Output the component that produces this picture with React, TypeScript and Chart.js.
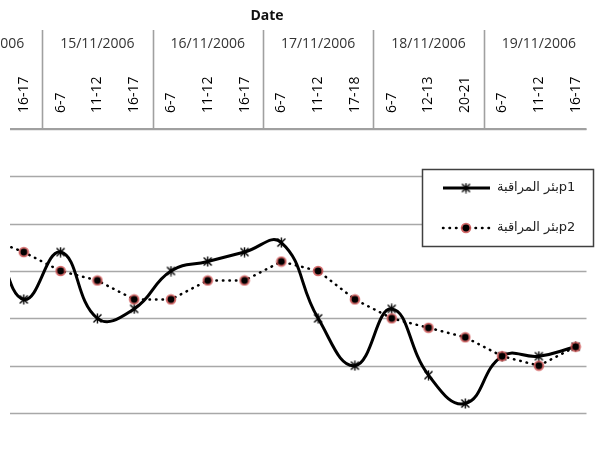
import React, { useEffect, useRef } from "react";
import { Chart, registerables } from "chart.js";

Chart.register(...registerables);

const dates = ["14/11/2006", "15/11/2006", "16/11/2006", "17/11/2006", "18/11/2006", "19/11/2006"];
const times = ["6-7", "11-12", "16-17", "6-7", "11-12", "16-17", "6-7", "11-12", "16-17", "6-7", "11-12", "17-18", "6-7", "12-13", "20-21", "6-7", "11-12", "16-17"];
const p1 = [3.0, 2.25, 3.6, 2.6, 4.0, 3.8, 3.0, 2.8, 2.6, 2.4, 4.0, 5.0, 3.8, 5.2, 5.8, 4.8, 4.8, 4.6];
const p2 = [2.4, 2.3, 2.6, 3.0, 3.2, 3.6, 3.6, 3.2, 3.2, 2.8, 3.0, 3.6, 4.0, 4.2, 4.4, 4.8, 5.0, 4.6];
const seriesNames = ["بئر المراقبةp1", "بئر المراقبةp2"];
const axisTitle = "Date";
const yTicks = [0, 1, 2, 3, 4, 5, 6];
const perDate = 3;

function makeStar(): HTMLCanvasElement {
  const c = document.createElement("canvas");
  c.width = 11;
  c.height = 11;
  const g = c.getContext("2d")!;
  g.strokeStyle = "#000";
  g.lineWidth = 1.4;
  g.beginPath();
  g.moveTo(1.5, 1.5); g.lineTo(9.5, 9.5);
  g.moveTo(9.5, 1.5); g.lineTo(1.5, 9.5);
  g.moveTo(5.5, 0.5); g.lineTo(5.5, 10.5);
  g.stroke();
  return c;
}

function makeDot(): HTMLCanvasElement {
  const c = document.createElement("canvas");
  c.width = 12;
  c.height = 12;
  const g = c.getContext("2d")!;
  g.fillStyle = "rgba(205,80,80,0.85)";
  g.beginPath();
  g.arc(6, 6, 5.3, 0, Math.PI * 2);
  g.fill();
  g.fillStyle = "#000";
  g.beginPath();
  g.arc(6, 6, 3.4, 0, Math.PI * 2);
  g.fill();
  return c;
}

export default function App() {
  const ref = useRef<HTMLCanvasElement>(null);

  useEffect(() => {
    if (!ref.current) return;
    const star = makeStar();
    const dot = makeDot();

    const decor = {
      id: "decor",
      beforeDatasetsDraw(chart: any) {
        const { ctx, chartArea } = chart;
        const x = chart.scales.x;
        const y = chart.scales.y;
        ctx.save();
        ctx.strokeStyle = "#a8a8a8";
        ctx.lineWidth = 1.6;
        yTicks.forEach((v) => {
          const py = Math.round(y.getPixelForValue(v)) + 0.5;
          ctx.beginPath();
          ctx.moveTo(chartArea.left, py);
          ctx.lineTo(chartArea.right, py);
          ctx.stroke();
        });
        ctx.strokeStyle = "#a0a0a0";
        ctx.lineWidth = 2.2;
        const ay = chartArea.top;
        ctx.beginPath();
        ctx.moveTo(chartArea.left, ay);
        ctx.lineTo(chartArea.right, ay);
        ctx.stroke();
        ctx.lineWidth = 1.6;
        for (let g = 1; g < dates.length; g++) {
          const px = Math.round(x.getPixelForValue(g * perDate - 0.5)) + 0.5;
          ctx.beginPath();
          ctx.moveTo(px, 30);
          ctx.lineTo(px, ay);
          ctx.stroke();
        }
        ctx.fillStyle = "#111";
        ctx.font = 'bold 14px "Open Sans"';
        ctx.textAlign = "center";
        ctx.textBaseline = "middle";
        ctx.fillText(axisTitle, 267, 16);
        ctx.font = '14px "Open Sans"';
        ctx.fillStyle = "#333";
        dates.forEach((d, g) => {
          const px = x.getPixelForValue(g * perDate + (perDate - 1) / 2);
          ctx.fillText(d, px, 44);
        });
        ctx.fillStyle = "#000";
        ctx.textAlign = "left";
        times.forEach((t, i) => {
          const px = x.getPixelForValue(i);
          ctx.save();
          ctx.translate(px, 113);
          ctx.rotate(-Math.PI / 2);
          ctx.fillText(t, 0, 0);
          ctx.restore();
        });
        ctx.restore();
      },
      afterDatasetsDraw(chart: any) {
        const { ctx } = chart;
        ctx.save();
        ctx.fillStyle = "#fff";
        ctx.fillRect(422, 169, 172, 78);
        ctx.strokeStyle = "#404040";
        ctx.lineWidth = 1.5;
        ctx.strokeRect(422.5, 169.5, 171, 77);
        ctx.strokeStyle = "#000";
        ctx.lineWidth = 3;
        ctx.beginPath();
        ctx.moveTo(443, 188);
        ctx.lineTo(490, 188);
        ctx.stroke();
        ctx.drawImage(star, 466 - 5.5, 188 - 5.5);
        ctx.lineWidth = 2.5;
        ctx.lineCap = "round";
        ctx.setLineDash([0.5, 6]);
        ctx.beginPath();
        ctx.moveTo(443, 228);
        ctx.lineTo(490, 228);
        ctx.stroke();
        ctx.setLineDash([]);
        ctx.drawImage(dot, 466 - 6, 228 - 6);
        ctx.fillStyle = "#222";
        ctx.font = '13px "DejaVu Sans"';
        ctx.textAlign = "left";
        ctx.textBaseline = "middle";
        ctx.fillText(seriesNames[0], 497, 188);
        ctx.fillText(seriesNames[1], 497, 228);
        ctx.restore();
      },
    };

    const chart = new Chart(ref.current, {
      type: "line",
      data: {
        datasets: [
          {
            label: seriesNames[0],
            data: p1.map((v, i) => ({ x: i, y: v })),
            borderColor: "#000",
            borderWidth: 3,
            tension: 0.45,
            pointStyle: star as any,
            pointRadius: 5,
            order: 2,
          },
          {
            label: seriesNames[1],
            data: p2.map((v, i) => ({ x: i, y: v })),
            borderColor: "#000",
            borderWidth: 2.5,
            borderDash: [0.5, 6],
            borderCapStyle: "round",
            tension: 0,
            pointStyle: dot as any,
            pointRadius: 6,
            order: 1,
          },
        ],
      },
      options: {
        responsive: false,
        animation: false,
        layout: { padding: { top: 129, bottom: 45, left: 10, right: 0 } },
        scales: {
          x: { type: "linear", display: false, min: 1.625, max: 17.295 },
          y: { display: false, min: 0, max: 6, reverse: true },
        },
        plugins: { legend: { display: false }, tooltip: { enabled: false } },
      },
      plugins: [decor],
    });
    return () => chart.destroy();
  }, []);

  return (
    <div style={{ position: "fixed", left: 0, top: 0, width: 595, height: 458, background: "#fff" }}>
      <canvas ref={ref} width={595} height={458} />
    </div>
  );
}
